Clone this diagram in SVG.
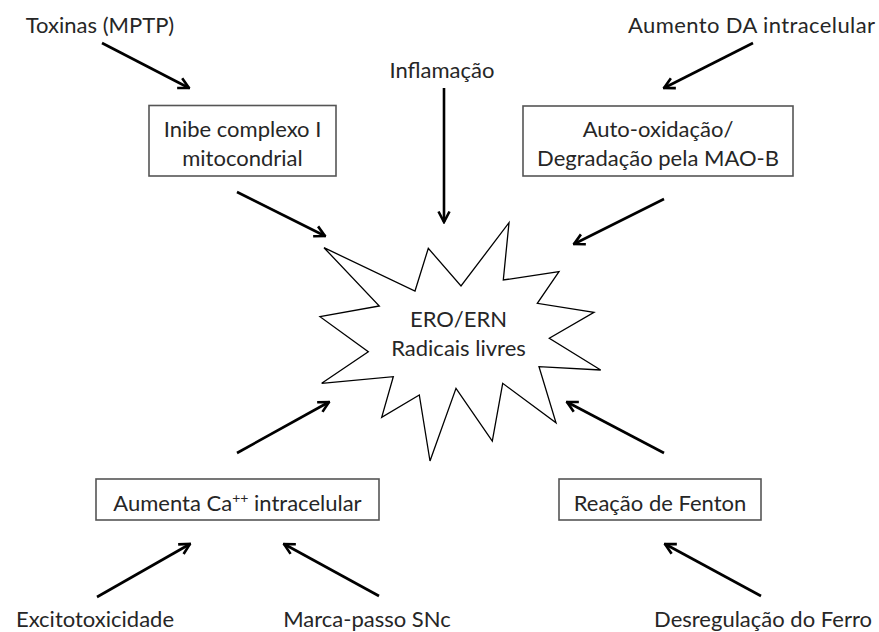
<svg xmlns="http://www.w3.org/2000/svg" width="879" height="632" viewBox="0 0 879 632">
<defs>
<style>
text{font-family:Lato,"Open Sans","Liberation Sans",sans-serif;font-size:22px;fill:#262626}
.box{fill:#fff;stroke:#555;stroke-width:1.6}
.c line{stroke:#000;stroke-width:2.6;marker-end:url(#ah)}
</style>
<marker id="ah" viewBox="0 0 14 14" markerWidth="14" markerHeight="14" markerUnits="userSpaceOnUse" refX="12.5" refY="7" orient="auto">
<path d="M2,1.5 L12.5,7 L2,12.5" fill="none" stroke="#000" stroke-width="2.6" stroke-linejoin="miter"/>
</marker>
</defs>
<rect width="879" height="632" fill="#fff"/>
<g class="c" id="connectors">
<line x1="102" y1="43" x2="189" y2="88"/>
<line x1="753" y1="43" x2="664" y2="88"/>
<line x1="444" y1="88" x2="444" y2="222"/>
<line x1="237" y1="192" x2="325" y2="236"/>
<line x1="664" y1="199" x2="574" y2="244"/>
<line x1="237" y1="453" x2="329" y2="402"/>
<line x1="664" y1="453" x2="567" y2="402"/>
<line x1="97" y1="597" x2="190" y2="544"/>
<line x1="379" y1="596" x2="284" y2="544"/>
<line x1="761" y1="596" x2="665" y2="544"/>
</g>
<g id="ros">
<polygon points="324,247.7 415,291 428.3,248.3 461,286 509,222.7 503.3,280 559,271.7 537.3,303.3 594,312.3 549.3,338.3 600.7,370 539,366.7 556,422.7 502.7,383.3 492.3,441 456,388.3 430,461 419.3,395 381.7,417.3 393.3,376.7 321.7,383.3 368.3,351.7 320,316.7 379.3,306" fill="#fff" stroke="#000" stroke-width="1.3" stroke-linejoin="miter"/>
<text x="458.5" y="327" text-anchor="middle">ERO/ERN</text>
<text x="458.5" y="356" text-anchor="middle">Radicais livres</text>
</g>
<g id="toxinas"><text x="100" y="33" text-anchor="middle">Toxinas (MPTP)</text></g>
<g id="inflamacao"><text x="442" y="78" text-anchor="middle">Inflamação</text></g>
<g id="aumento-da"><text x="751.5" y="33" text-anchor="middle" textLength="247">Aumento DA intracelular</text></g>
<g id="complexo"><rect class="box" x="149" y="105.5" width="187" height="70.5"/>
<text x="242.5" y="137" text-anchor="middle">Inibe complexo I</text>
<text x="242.5" y="166" text-anchor="middle">mitocondrial</text></g>
<g id="autoox"><rect class="box" x="523" y="106" width="270" height="70"/>
<text x="658" y="137" text-anchor="middle">Auto-oxidação/</text>
<text x="658" y="166" text-anchor="middle">Degradação pela MAO-B</text></g>
<g id="calcio"><rect class="box" x="96" y="479" width="283" height="41"/>
<text x="237.5" y="511" text-anchor="middle">Aumenta Ca<tspan dy="-8" font-size="14">++</tspan><tspan dy="8"> intracelular</tspan></text></g>
<g id="fenton"><rect class="box" x="559" y="479" width="202" height="41"/>
<text x="660" y="511" text-anchor="middle">Reação de Fenton</text></g>
<g id="excito"><text x="95" y="627" text-anchor="middle">Excitotoxicidade</text></g>
<g id="marca"><text x="367" y="627" text-anchor="middle">Marca-passo SNc</text></g>
<g id="ferro"><text x="763" y="627" text-anchor="middle">Desregulação do Ferro</text></g>
</svg>
